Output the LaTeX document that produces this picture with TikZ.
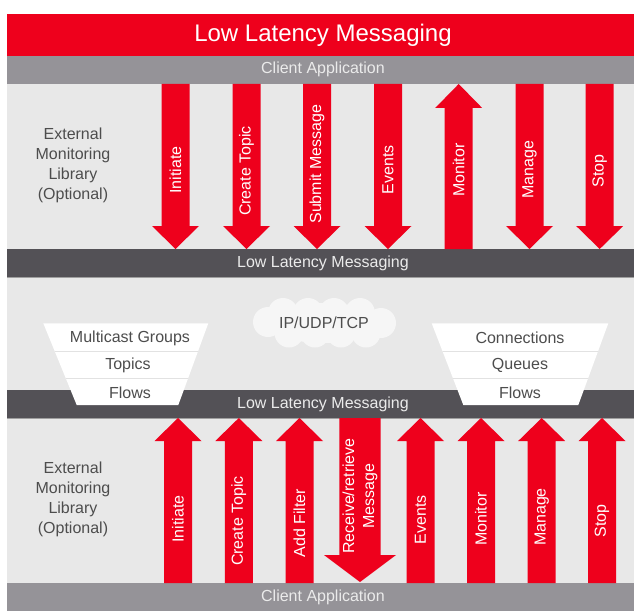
\documentclass[tikz,border=0pt]{standalone}
\usepackage{fontspec}
\setmainfont{Liberation Sans}
\definecolor{llmred}{RGB}{238,0,28}
\definecolor{bargrey}{RGB}{149,147,152}
\definecolor{bardark}{RGB}{83,81,86}
\definecolor{panelbg}{RGB}{232,232,232}
\definecolor{txtdark}{RGB}{77,77,77}
\definecolor{cloudc}{RGB}{246,246,246}
\definecolor{divc}{RGB}{226,226,226}
\tikzset{
  lbl/.style={font=\fontsize{16}{20}\selectfont, text=txtdark, inner sep=0pt, align=center},
  bartxt/.style={font=\fontsize{16}{20}\selectfont, text=white!92!black, inner sep=0pt},
  arrtxt/.style={font=\fontsize{16}{20}\selectfont, text=white, rotate=90, inner sep=0pt, align=center},
  divider/.style={draw=divc, line width=1pt},
}
\newcommand\llmdown[6]{% cx, ytop, ytip, headstart, shaft half width, head half width
  \fill[llmred] ({#1-#5},#2) -- ({#1+#5},#2) -- ({#1+#5},#4) -- ({#1+#6},#4) -- (#1,#3) -- ({#1-#6},#4) -- ({#1-#5},#4) -- cycle;}
\newcommand\llmup[6]{% cx, ytip, ybottom, headend, shaft half width, head half width
  \fill[llmred] (#1,#2) -- ({#1+#6},#4) -- ({#1+#5},#4) -- ({#1+#5},#3) -- ({#1-#5},#3) -- ({#1-#5},#4) -- ({#1-#6},#4) -- cycle;}
\begin{document}
\begin{tikzpicture}[x=1pt,y=-1pt]
\useasboundingbox (0,0) rectangle (634,615);
% panels and bars
\fill[panelbg] (7,84) rectangle (634,583);
\fill[llmred] (7,14) rectangle (634,56);
\fill[bargrey] (7,56) rectangle (634,84);
\fill[bardark] (7,249) rectangle (634,277);
\fill[bardark] (7,390) rectangle (634,418);
\draw[gray!75, line width=0.8pt] (7,277) -- (634,277);
\draw[gray!75, line width=0.8pt] (7,418) -- (634,418);
\fill[bargrey] (7,583) rectangle (634,611);

\node[font=\fontsize{24}{28}\selectfont, text=white, inner sep=0pt] (title) at (323,35) {Low Latency Messaging};
\node[bartxt] (clienttop) at (323,69) {Client Application};
\node[bartxt] (llmbar1) at (323,263) {Low Latency Messaging};
\node[bartxt] (llmbar2) at (323,404) {Low Latency Messaging};
\node[bartxt] (clientbot) at (323,597) {Client Application};

% left labels
\node[lbl] (extTop) at (73,165.5) {External\\Monitoring\\Library\\(Optional)};
\node[lbl] (extBot) at (73,499.5) {External\\Monitoring\\Library\\(Optional)};

% top arrows
\foreach \cx in {175.5,246.5,317,388,529.5,599.7} {\llmdown{\cx}{84}{249}{226}{14}{23.5}}
\llmup{458.7}{84}{249}{108}{14}{23.5}
\node[arrtxt] (tInit) at (175.5,170) {Initiate};
\node[arrtxt] (tTopic) at (246.5,171) {Create Topic};
\node[arrtxt] (tSubmit) at (317,164) {Submit Message};
\node[arrtxt] (tEvents) at (388,170) {Events};
\node[arrtxt] (tMonitor) at (458.7,170) {Monitor};
\node[arrtxt] (tManage) at (529.5,170) {Manage};
\node[arrtxt] (tStop) at (599.7,171) {Stop};

% bottom arrows
\foreach \cx in {178,238.8,299.5,420.5,481,541.7,602} {\llmup{\cx}{418}{583}{441}{14}{23.5}}
\llmdown{360}{418}{582}{555}{20.7}{36}
\node[arrtxt] (bInit) at (178,519) {Initiate};
\node[arrtxt] (bTopic) at (238.8,521) {Create Topic};
\node[arrtxt] (bFilter) at (299.5,523) {Add Filter};
\node[arrtxt] (bRecv) at (360,496) {Receive/retrieve\\Message};
\node[arrtxt] (bEvents) at (420.5,520) {Events};
\node[arrtxt] (bMonitor) at (481,519) {Monitor};
\node[arrtxt] (bManage) at (541.7,517) {Manage};
\node[arrtxt] (bStop) at (602,521) {Stop};

% cloud
\fill[cloudc] (324,323) ellipse [x radius=58pt, y radius=20pt];
\foreach \px in {283,308,334,360} {\fill[cloudc] (\px,313) circle [radius=15pt];}
\foreach \px in {289,315,341,366} {\fill[cloudc] (\px,333) circle [radius=14.5pt];}
\fill[cloudc] (268,322) circle [radius=15pt];
\fill[cloudc] (381,323) circle [radius=15pt];
\node[lbl] (net) at (324,323) {IP/UDP/TCP};

% left trapezoid
\fill[white] (43.3,323.3) -- (208.3,323.3) -- (178.3,405) -- (76.7,405) -- cycle;
\begin{scope}
  \clip (43.3,323.3) -- (208.3,323.3) -- (178.3,405) -- (76.7,405) -- cycle;
  \draw[divider] (0,351) -- (300,351);
  \draw[divider] (0,378) -- (300,378);
\end{scope}
\node[lbl] (mcg) at (130,338) {Multicast Groups};
\node[lbl] (topics) at (128,365) {Topics};
\node[lbl] (flowsL) at (130,393) {Flows};

% right trapezoid
\fill[white] (431.7,323.3) -- (608.3,323.3) -- (578.3,405) -- (463.3,405) -- cycle;
\begin{scope}
  \clip (431.7,323.3) -- (608.3,323.3) -- (578.3,405) -- (463.3,405) -- cycle;
  \draw[divider] (400,351) -- (634,351);
  \draw[divider] (400,378) -- (634,378);
\end{scope}
\node[lbl] (conn) at (520,338) {Connections};
\node[lbl] (queues) at (520,365) {Queues};
\node[lbl] (flowsR) at (520,393) {Flows};
\end{tikzpicture}
\end{document}
